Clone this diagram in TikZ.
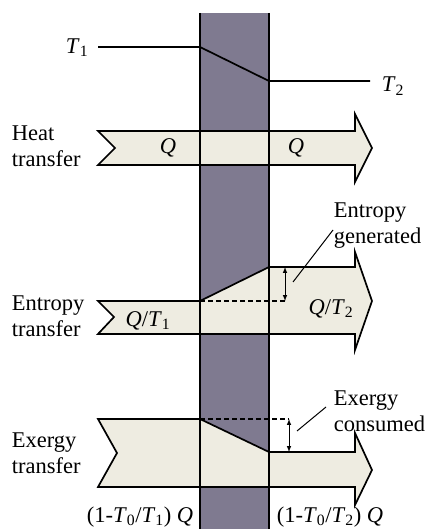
\documentclass[tikz,border=0pt]{standalone}
\usepackage{fontspec}
\setmainfont{Liberation Serif}
\definecolor{wallc}{RGB}{127,122,144}
\definecolor{flowc}{RGB}{238,236,225}
\tikzset{flow/.style={fill=flowc,draw=black,line join=miter},
  lbl/.style={inner sep=0pt,align=left},
  gap/.style={<->,>=latex,line width=1pt},
  hint/.style={line width=1pt},
  level/.style={dash pattern=on 5pt off 3pt}}

\begin{document}
\begin{tikzpicture}[x=1pt,y=-1pt,line width=1.7pt,font=\fontsize{22.5}{26}\selectfont]
\useasboundingbox (0,0) rectangle (427,529);
\fill[wallc] (200,13) rectangle (269,529);
% the three flows
\draw[flow] (98,131)--(355,131)--(355,114)--(372,148)--(355,182)--(355,165)--(98,165)--(115,148)--cycle;
\draw[flow] (98,301)--(200,301)--(269,267)--(355,267)--(355,252)--(372,301)--(355,350)--(355,334)--(98,334)--(114,317)--cycle;
\draw[flow] (98,419)--(200,419)--(269,452)--(355,452)--(355,433)--(372,470)--(355,505)--(355,487)--(98,487)--(117,453)--cycle;
\draw (200,13)--(200,529) (269,13)--(269,529);
% temperature profile
\node[lbl,anchor=east] (t1) at (89,48) {\textit{T}\textsubscript{1}};
\node[lbl,anchor=west] (t2) at (381,86) {\textit{T}\textsubscript{2}};
\coordinate (ta) at (98,47);\coordinate (tb) at (200,47);\coordinate (tc) at (269,81);\coordinate (td) at (370,81);
\draw (ta)--(tb)--(tc)--(td);
% labels
\node[lbl,anchor=west] (heat) at (11,146) {Heat\\transfer};
\node[lbl,anchor=west] (entr) at (11,316) {Entropy\\transfer};
\node[lbl,anchor=west] (exer) at (11,453) {Exergy\\transfer};
\node[lbl] (q1) at (168,148) {\textit{Q}};\node[lbl] (q2) at (296,148) {\textit{Q}};
\node[lbl] (s1) at (148,321) {\textit{Q}/\textit{T}\textsubscript{1}};\node[lbl] (s2) at (331,309) {\textit{Q}/\textit{T}\textsubscript{2}};
\node[lbl] (x1) at (140,517) {(1-\textit{T}\textsubscript{0}/\textit{T}\textsubscript{1}) \textit{Q}};
\node[lbl] (x2) at (330,517) {(1-\textit{T}\textsubscript{0}/\textit{T}\textsubscript{2}) \textit{Q}};
\node[lbl,anchor=west] (sgen) at (333,226) {Entropy\\generated};
\node[lbl,anchor=west] (xdes) at (333,411) {Exergy\\consumed};
% generated and consumed parts
\coordinate (sa) at (200,301);\coordinate (sb) at (285,301);\coordinate (sc) at (285,267);
\draw[level] (sa)--(sb);\draw[gap] (sb)--(sc);
\coordinate (xa) at (200,419);\coordinate (xb) at (289,419);\coordinate (xc) at (289,452);
\draw[level] (xa)--(xb);\draw[gap] (xb)--(xc);
\coordinate (sp) at (293,282);\coordinate (sq) at (333,230);\draw[hint] (sp)--(sq);
\coordinate (xp) at (297,431);\coordinate (xq) at (326,407);\draw[hint] (xp)--(xq);
\end{tikzpicture}
\end{document}
